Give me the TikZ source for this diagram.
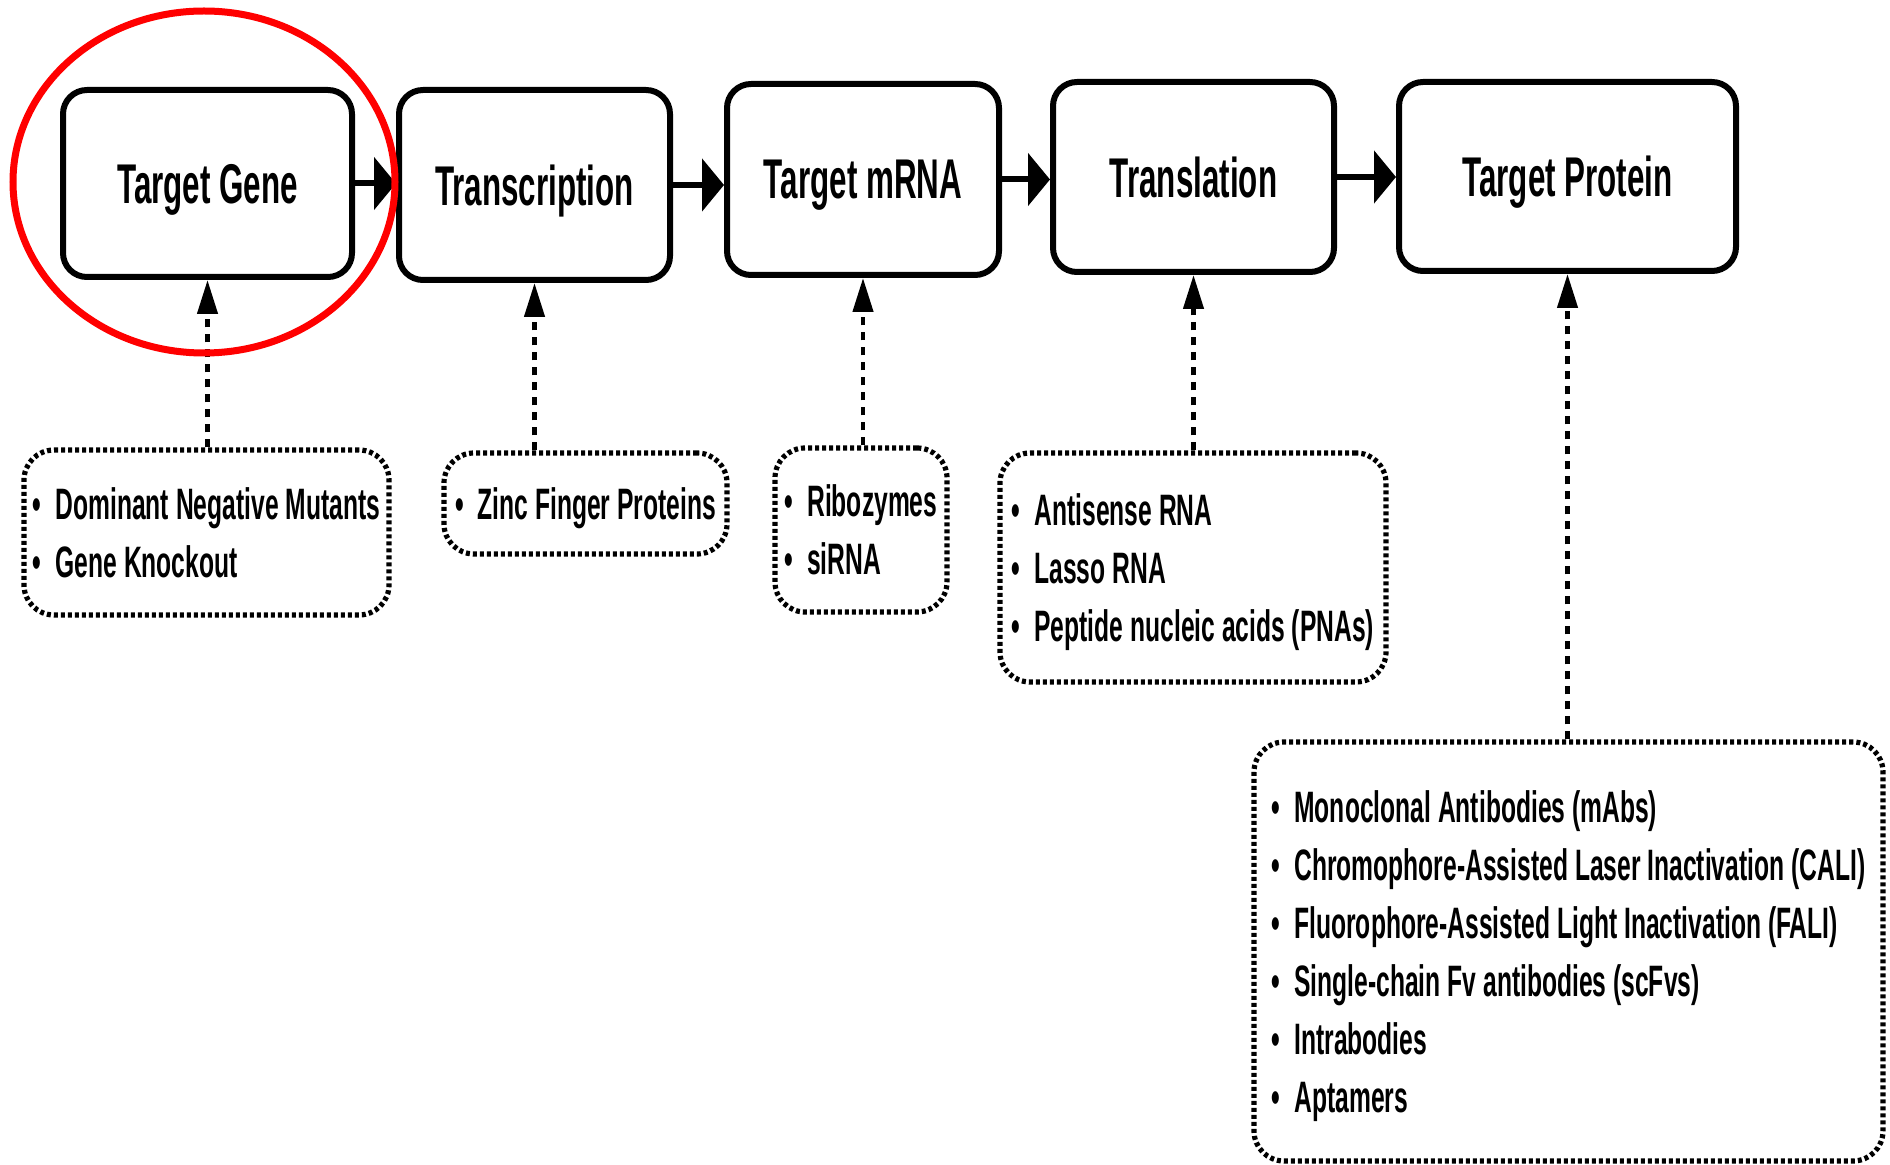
\documentclass[tikz,border=0pt]{standalone}
\usepackage{fontspec}
\setmainfont{Liberation Sans}[FakeStretch=0.56]
\usetikzlibrary{arrows.meta}
\newcommand\itm{•\hspace{7pt}}
\begin{document}
\begin{tikzpicture}[x=0.5pt,y=-0.5pt,
  stage/.style={draw, line width=3pt, rounded corners=12pt, inner sep=0pt,
    text depth=0pt, font=\fontsize{28}{32}\selectfont\bfseries},
  tool/.style={draw, line width=2.6pt, dash pattern=on 2pt off 1.5pt,
    rounded corners=15pt, inner sep=0pt, align=left, text depth=0pt,
    font=\fontsize{22}{29}\selectfont\bfseries},
  flow/.style={line width=3pt, -{Triangle[length=11pt,width=26pt]}},
  act/.style={line width=2.2pt, dash pattern=on 4pt off 3.5pt,
    -{Triangle[length=17pt,width=10pt]}}
]
\useasboundingbox (0,0) rectangle (1890,1165);
\fill[white] (0,0) rectangle (1890,1165);

% main stages
\node[stage, minimum width=144.5pt, minimum height=93.5pt] (B1) at (207.5,183.5) {Target Gene};
\node[stage, minimum width=135.5pt, minimum height=95pt] (B2) at (534.5,185) {Transcription};
\node[stage, minimum width=136pt, minimum height=95.5pt] (B3) at (863,179.5) {Target mRNA};
\node[stage, minimum width=140.5pt, minimum height=95pt] (B4) at (1193.5,177) {Translation};
\node[stage, minimum width=168.5pt, minimum height=94.5pt] (B5) at (1567.5,176.5) {Target Protein};

\draw[flow] (B1.east) -- (B1.east -| B2.west);
\draw[flow] (B2.east) -- (B2.east -| B3.west);
\draw[flow] (B3.east) -- (B3.east -| B4.west);
\draw[flow] (B4.east) -- (B4.east -| B5.west);

% tools
\node[tool, minimum width=182.5pt, minimum height=82.5pt] (D1) at (206.5,532.5)
  {\itm Dominant Negative Mutants\\ \itm Gene Knockout};
\node[tool, minimum width=141.5pt, minimum height=50.5pt] (D2) at (585.5,503.5)
  {\itm Zinc Finger Proteins};
\node[tool, minimum width=86pt, minimum height=82pt, text depth=-6pt] (D3) at (861,530)
  {\itm Ribozymes\\ \itm siRNA};
\node[tool, minimum width=193pt, minimum height=114.5pt] (D4) at (1193,567.5)
  {\itm Antisense RNA\\ \itm Lasso RNA\\ \itm Peptide nucleic acids (PNAs)};
\node[tool, minimum width=314.5pt, minimum height=209.5pt] (D5) at (1568.5,951.5)
  {\itm Monoclonal Antibodies (mAbs)\\
   \itm Chromophore-Assisted Laser Inactivation (CALI)\\
   \itm Fluorophore-Assisted Light Inactivation (FALI)\\
   \itm Single-chain Fv antibodies (scFvs)\\
   \itm Intrabodies\\
   \itm Aptamers};

\draw[act] (B1.south |- D1.north) -- (B1.south);
\draw[act] (B2.south |- D2.north) -- (B2.south);
\draw[act] (B3.south |- D3.north) -- (B3.south);
\draw[act] (B4.south |- D4.north) -- (B4.south);
\draw[act] (B5.south |- D5.north) -- (B5.south);

% highlight
\draw[red, line width=3.5pt] (204,182) ellipse [x radius=191, y radius=171];
\end{tikzpicture}
\end{document}
